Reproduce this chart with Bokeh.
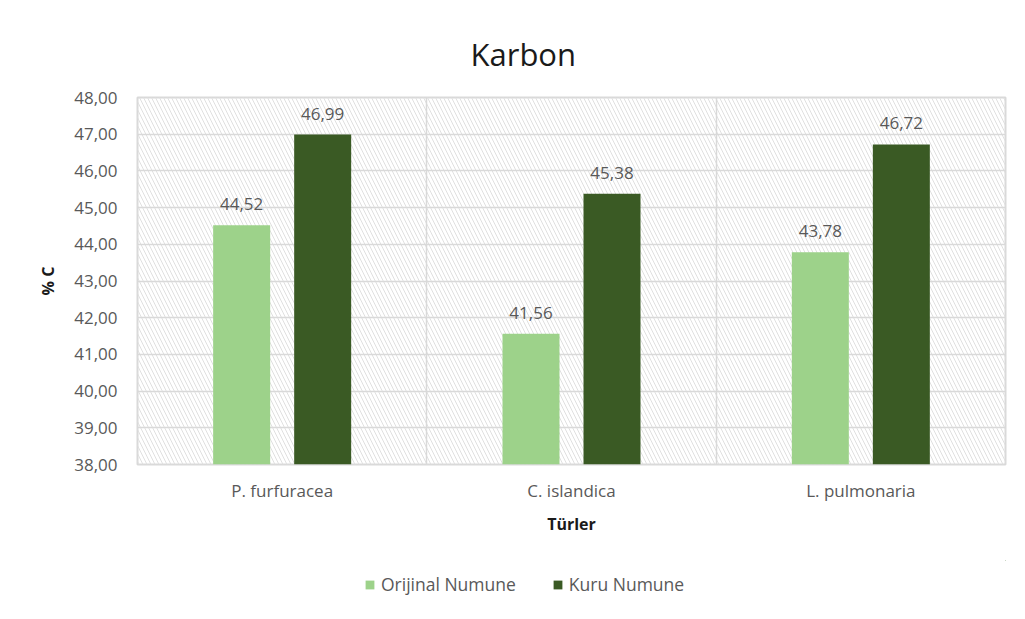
from bokeh.plotting import figure
from bokeh.layouts import column
from bokeh.models import (ColumnDataSource, FixedTicker, BoxAnnotation, Legend,
                          LegendItem, Range1d)
from bokeh.core.properties import value
from bokeh.embed import file_html
from bokeh.resources import INLINE

# ---- data ----
categories = ["P. furfuracea", "C. islandica", "L. pulmonaria"]
orijinal = [44.52, 41.56, 43.78]
kuru = [46.99, 45.38, 46.72]
series_names = ["Orijinal Numune", "Kuru Numune"]
y_ticks = [38, 39, 40, 41, 42, 43, 44, 45, 46, 47, 48]
y_tick_labels = ["38,00", "39,00", "40,00", "41,00", "42,00", "43,00",
                 "44,00", "45,00", "46,00", "47,00", "48,00"]

FONT = "Open Sans"
LIGHT = "#9DD28A"
DARK = "#3A5A24"
GRID = "#D9D9D9"
TXT = "#595959"


def fmt(v):
    return f"{v:.2f}".replace(".", ",")


n = len(categories)
centers = [i + 0.5 for i in range(n)]
offset = 0.14
bw = 0.197

src_o = ColumnDataSource(dict(x=[c - offset for c in centers], top=orijinal,
                              lbl=[fmt(v) for v in orijinal]))
src_k = ColumnDataSource(dict(x=[c + offset for c in centers], top=kuru,
                              lbl=[fmt(v) for v in kuru]))

p = figure(width=1017, height=560, output_backend="svg", toolbar_location=None,
           x_range=Range1d(0, n), y_range=Range1d(y_ticks[0], y_ticks[-1]),
           min_border_left=137, min_border_right=12, min_border_top=97,
           min_border_bottom=96, title="Karbon")

p.background_fill_color = "white"
p.border_fill_color = "white"
p.outline_line_color = GRID
p.outline_line_width = 2

# title
p.title.align = "left"
p.title.text_font = FONT
p.title.text_font_size = "31px"
p.title.text_font_style = "normal"
p.title.text_line_height = 0.9
p.title.text_color = "#1a1a1a"
p.title.standoff = 45
p.title.offset = 333

# hatched plot area background
hatch = BoxAnnotation(fill_alpha=0, line_alpha=0, hatch_pattern="\\",
                      hatch_color="#E0E0E0", hatch_scale=8, hatch_weight=1,
                      level="image")
p.add_layout(hatch)

# bars
r_o = p.vbar(x="x", top="top", bottom=y_ticks[0], width=bw, source=src_o,
             fill_color=LIGHT, line_color=None)
r_k = p.vbar(x="x", top="top", bottom=y_ticks[0], width=bw, source=src_k,
             fill_color=DARK, line_color=None)

for s in (src_o, src_k):
    p.text(x="x", y="top", text="lbl", source=s, text_align="center",
           text_baseline="bottom", y_offset=-15, text_font=value(FONT),
           text_font_size="17px", text_color=TXT)

# axes
p.yaxis.ticker = FixedTicker(ticks=y_ticks)
p.yaxis.major_label_overrides = {t: l for t, l in zip(y_ticks, y_tick_labels)}
p.xaxis.ticker = FixedTicker(ticks=centers)
p.xaxis.major_label_overrides = {c: l for c, l in zip(centers, categories)}

for ax in (p.xaxis, p.yaxis):
    ax.axis_line_color = None
    ax.major_tick_line_color = None
    ax.minor_tick_line_color = None
    ax.major_tick_out = 0
    ax.major_tick_in = 0
    ax.major_label_text_font = FONT
    ax.major_label_text_font_size = "17px"
    ax.major_label_text_color = TXT
    ax.axis_label_text_font = FONT
    ax.axis_label_text_font_size = "16px"
    ax.axis_label_text_font_style = "bold"
    ax.axis_label_text_color = "#1a1a1a"

p.yaxis.axis_label = "% C"
p.xaxis.axis_label = "Türler"
p.yaxis.major_label_standoff = 20
p.yaxis.axis_label_standoff = 12
p.xaxis.major_label_standoff = 14
p.xaxis.axis_label_standoff = 8

# grids
p.ygrid.ticker = FixedTicker(ticks=y_ticks)
p.ygrid.grid_line_color = GRID
p.ygrid.grid_line_width = 1.5
p.xgrid.ticker = FixedTicker(ticks=list(range(1, n)))
p.xgrid.grid_line_color = GRID
p.xgrid.grid_line_width = 1.5

# legend strip (separate figure below the chart); its ranges keep the
# proxy bars far out of view, they only supply the legend swatches
pl = figure(width=1017, height=56, output_backend="svg", toolbar_location=None,
            x_range=Range1d(-30, -29), y_range=Range1d(-30, -29), min_border=0)
pl.axis.visible = False
pl.grid.visible = False
pl.outline_line_color = None
pl.background_fill_color = "white"
pl.border_fill_color = "white"
d_o = pl.vbar(x="x", top="top", bottom=y_ticks[0], width=bw, source=src_o,
              fill_color=LIGHT, line_color=None)
d_k = pl.vbar(x="x", top="top", bottom=y_ticks[0], width=bw, source=src_k,
              fill_color=DARK, line_color=None)

legend = Legend(items=[LegendItem(label=series_names[0], renderers=[d_o]),
                       LegendItem(label=series_names[1], renderers=[d_k])],
                orientation="horizontal", location=(227, 20),
                border_line_color=None, background_fill_alpha=0,
                padding=0, margin=0, spacing=36,
                glyph_width=11, glyph_height=11, label_standoff=6,
                label_text_font=FONT, label_text_font_size="17.5px",
                label_text_color=TXT)
pl.add_layout(legend, "center")

layout = column(p, pl, spacing=0)
open("out.html", "w").write(file_html(layout, INLINE))
